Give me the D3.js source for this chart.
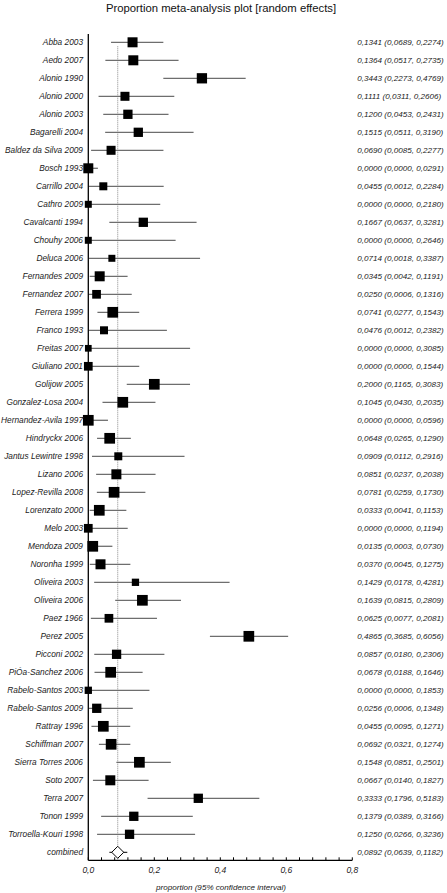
<!DOCTYPE html>
<html><head><meta charset="utf-8">
<script src="https://cdn.jsdelivr.net/npm/d3@7"></script>
<style>html,body{margin:0;padding:0;background:#fff;}svg{display:block;}</style>
</head><body>
<script>
const studies = ["Abba 2003","Aedo 2007","Alonio 1990","Alonio 2000","Alonio 2003","Bagarelli 2004","Baldez da Silva 2009","Bosch 1993","Carrillo 2004","Cathro 2009","Cavalcanti 1994","Chouhy 2006","Deluca 2006","Fernandes 2009","Fernandez 2007","Ferrera 1999","Franco 1993","Freitas 2007","Giuliano 2001","Golijow 2005","Gonzalez-Losa 2004","Hernandez-Avila 1997","Hindryckx 2006","Jantus Lewintre 1998","Lizano 2006","Lopez-Revilla 2008","Lorenzato 2000","Melo 2003","Mendoza 2009","Noronha 1999","Oliveira 2003","Oliveira 2006","Paez 1966","Perez 2005","Picconi 2002","PiÓa-Sanchez 2006","Rabelo-Santos 2003","Rabelo-Santos 2009","Rattray 1996","Schiffman 2007","Sierra Torres 2006","Soto 2007","Terra 2007","Tonon 1999","Torroella-Kouri 1998"];
const proportion = [0.1341,0.1364,0.3443,0.1111,0.1200,0.1515,0.0690,0.0000,0.0455,0.0000,0.1667,0.0000,0.0714,0.0345,0.0250,0.0741,0.0476,0.0000,0.0000,0.2000,0.1045,0.0000,0.0648,0.0909,0.0851,0.0781,0.0333,0.0000,0.0135,0.0370,0.1429,0.1639,0.0625,0.4865,0.0857,0.0678,0.0000,0.0256,0.0455,0.0692,0.1548,0.0667,0.3333,0.1379,0.1250];
const lowerCI = [0.0689,0.0517,0.2273,0.0311,0.0453,0.0511,0.0085,0.0000,0.0012,0.0000,0.0637,0.0000,0.0018,0.0042,0.0006,0.0277,0.0012,0.0000,0.0000,0.1165,0.0430,0.0000,0.0265,0.0112,0.0237,0.0259,0.0041,0.0000,0.0003,0.0045,0.0178,0.0815,0.0077,0.3685,0.0180,0.0188,0.0000,0.0006,0.0095,0.0321,0.0851,0.0140,0.1796,0.0389,0.0266];
const upperCI = [0.2274,0.2735,0.4769,0.2606,0.2431,0.3190,0.2277,0.0291,0.2284,0.2180,0.3281,0.2646,0.3387,0.1191,0.1316,0.1543,0.2382,0.3085,0.1544,0.3083,0.2035,0.0596,0.1290,0.2916,0.2038,0.1730,0.1153,0.1194,0.0730,0.1275,0.4281,0.2809,0.2081,0.6056,0.2306,0.1646,0.1853,0.1348,0.1271,0.1274,0.2501,0.1827,0.5183,0.3166,0.3236];
const weights = [2.27,2.27,2.4,1.84,1.96,1.96,1.84,2.27,1.45,1.11,1.96,1.11,1.11,2.27,1.72,2.6,1.45,1.02,1.72,2.6,2.6,2.6,2.6,1.45,2.27,2.6,2.6,1.72,2.6,2.27,1.21,2.6,1.72,2.6,1.96,2.6,1.21,1.96,2.6,2.6,2.6,2.27,1.96,1.96,1.96];
const combinedLabel = "combined";
const combined = [0.0892, 0.0639, 0.1182];
const xTicks = [0, 0.2, 0.4, 0.6, 0.8];
const title = "Proportion meta-analysis plot [random effects]";
const xTitle = "proportion (95% confidence interval)";

const W = 447, H = 893;
const svg = d3.select("body").append("svg").attr("width", W).attr("height", H);
const font = "'Liberation Sans', Arial, sans-serif";
const loc = d3.formatLocale({decimal: ",", thousands: ".", grouping: [3], currency: ["", ""]});
const f4 = loc.format(".4f"), f1 = loc.format(".1f");

const x = d3.scaleLinear().domain([0, 0.8]).range([88.3, 352.3]);
const rows = studies.concat([combinedLabel]);
const y = d3.scalePoint().domain(rows).range([42.3, 852.3]);
const side = d3.scaleSqrt().domain([0, d3.max(weights)]).range([0, 10.7]);
const axisY = 860.3;

svg.append("text").attr("x", 221).attr("y", 12).attr("text-anchor", "middle")
  .attr("font-family", font).attr("font-size", 11.3).attr("fill", "#111").text(title);

const data = studies.map((s, i) => ({s, p: proportion[i], lo: lowerCI[i], hi: upperCI[i], w: weights[i]}));

// dotted pooled line
svg.append("line").attr("x1", x(combined[0])).attr("x2", x(combined[0]))
  .attr("y1", y(studies[0]) + 4).attr("y2", axisY)
  .attr("stroke", "#8a8a8a").attr("stroke-width", 1).attr("stroke-dasharray", "1,1");

const g = svg.append("g");
g.selectAll("line.ci").data(data).join("line").attr("class", "ci")
  .attr("x1", d => x(d.lo)).attr("x2", d => x(d.hi))
  .attr("y1", d => y(d.s)).attr("y2", d => y(d.s))
  .attr("stroke", "#6e6e6e").attr("stroke-width", 1.3);

// axes
svg.append("line").attr("x1", x(0)).attr("x2", x(0)).attr("y1", 34).attr("y2", axisY)
  .attr("stroke", "#000").attr("stroke-width", 1.3);
svg.append("line").attr("x1", x(0)).attr("x2", x(0.8)).attr("y1", axisY).attr("y2", axisY)
  .attr("stroke", "#000").attr("stroke-width", 1.3);
const minor = d3.range(0, 0.8001, 0.04);
svg.selectAll("line.tk").data(minor).join("line").attr("class", "tk")
  .attr("x1", d => x(d)).attr("x2", d => x(d)).attr("y1", axisY).attr("y2", axisY - 3)
  .attr("stroke", "#000").attr("stroke-width", 1);

g.selectAll("rect.sq").data(data).join("rect").attr("class", "sq")
  .attr("x", d => x(d.p) - side(d.w) / 2).attr("y", d => y(d.s) - side(d.w) / 2)
  .attr("width", d => side(d.w)).attr("height", d => side(d.w)).attr("fill", "#000");

// combined
const cy = y(combinedLabel), cx = x(combined[0]);
svg.append("line").attr("x1", x(combined[1])).attr("x2", x(combined[2])).attr("y1", cy).attr("y2", cy)
  .attr("stroke", "#000").attr("stroke-width", 1);
svg.append("path").attr("d", `M${cx - 6},${cy} L${cx},${cy - 6} L${cx + 6},${cy} L${cx},${cy + 6} Z`)
  .attr("fill", "#fff").attr("stroke", "#000").attr("stroke-width", 1);

// labels
svg.selectAll("text.lab").data(rows).join("text").attr("class", "lab")
  .attr("x", 83).attr("y", d => y(d) + 3).attr("text-anchor", "end")
  .attr("font-family", font).attr("font-style", "italic").attr("font-size", 8.3).attr("fill", "#222")
  .text(d => d);

const vals = data.map(d => [d.p, d.lo, d.hi]).concat([combined]);
svg.selectAll("text.val").data(vals).join("text").attr("class", "val")
  .attr("x", 357.3).attr("y", (d, i) => y(rows[i]) + 3)
  .attr("font-family", font).attr("font-style", "italic").attr("font-size", 8.1).attr("fill", "#222")
  .text(d => `${f4(d[0])} (${f4(d[1])}, ${f4(d[2])})`);

svg.selectAll("text.xt").data(xTicks).join("text").attr("class", "xt")
  .attr("x", d => x(d)).attr("y", axisY + 13).attr("text-anchor", "middle")
  .attr("font-family", font).attr("font-style", "italic").attr("font-size", 8.5).attr("fill", "#222")
  .text(d => f1(d));

svg.append("text").attr("x", 221).attr("y", 890).attr("text-anchor", "middle")
  .attr("font-family", font).attr("font-style", "italic").attr("font-size", 8.1).attr("fill", "#222")
  .text(xTitle);
</script>
</body></html>
